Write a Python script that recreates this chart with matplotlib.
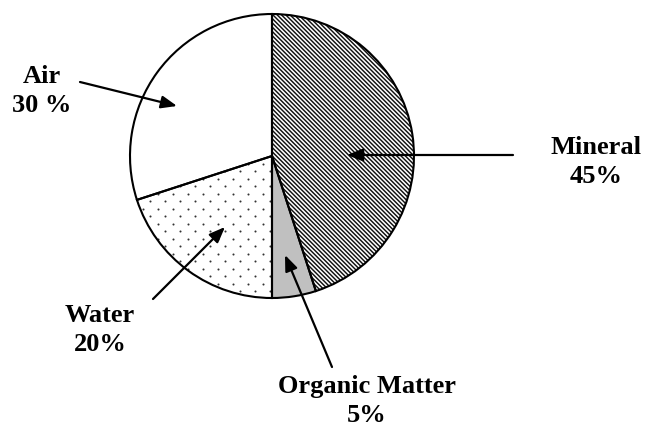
import matplotlib
matplotlib.use("Agg")
import matplotlib.pyplot as plt
from matplotlib.collections import LineCollection
import numpy as np

labels = ["Mineral\n45%", "Organic Matter\n5%", "Water\n20%", "Air\n30 %"]
values = [45, 5, 20, 30]
colors = ["white", "#c0c0c0", "white", "white"]

plt.rcParams["font.family"] = ["Liberation Serif", "DejaVu Serif"]

W, H = 645, 426
fig = plt.figure(figsize=(W / 100, H / 100), dpi=100)
ax = fig.add_axes([0, 0, 1, 1])

cx, cy, r = 272, H - 156, 142
# filled wedges (also used as clip paths for the textures)
wedges, _ = ax.pie(values, colors=colors, startangle=90, counterclock=False,
                   center=(cx, cy), radius=r, frame=True,
                   wedgeprops=dict(edgecolor="none", linewidth=0, zorder=2))
# outlines on top of the textures
ax.pie(values, colors=["none"] * len(values), startangle=90, counterclock=False,
       center=(cx, cy), radius=r, frame=True,
       wedgeprops=dict(edgecolor="black", linewidth=1.5, fill=False, zorder=4))
ax.set_xlim(0, W)
ax.set_ylim(0, H)
ax.set_aspect("equal")
ax.axis("off")

# diagonal stripe texture for the Mineral wedge
segs = []
for c in np.arange(-W, W + H, 4.3):
    segs.append([(c, H), (c + H, 0)])
stripes = LineCollection(segs, colors="#111111", linewidths=1.05, zorder=3)
ax.add_collection(stripes)
stripes.set_clip_path(wedges[0])

# dotted texture for the Water wedge
gx, gy = [], []
for i, yy in enumerate(np.arange(0, H, 7.5)):
    off = 0 if i % 2 == 0 else 7.5
    for xx in np.arange(off, W, 15):
        gx.append(xx)
        gy.append(yy)
dots = ax.scatter(gx, gy, s=2.2, color="#333333", linewidths=0, zorder=3)
dots.set_clip_path(wedges[2])

# label text positions (pixels from top) and arrow tails / tips
text_pos = [(596, 162), (367, 401), (100, 330), (42, 91)]
arrow_tail = [(513, 155), (332, 367), (153, 299), (80, 82)]
arrow_tip = [(347, 155), (285, 255), (225, 227), (177, 106)]

for lab, tp, ta, tt in zip(labels, text_pos, arrow_tail, arrow_tip):
    ax.text(tp[0], H - tp[1], lab, ha="center", va="center", fontsize=19,
            fontweight="bold", linespacing=1.3)
    ax.annotate("", xy=(tt[0], H - tt[1]), xytext=(ta[0], H - ta[1]),
                arrowprops=dict(arrowstyle="-|>,head_length=0.95,head_width=0.38",
                                color="black", lw=1.6, shrinkA=0, shrinkB=0),
                zorder=5)

fig.savefig("out.png", dpi=100)
